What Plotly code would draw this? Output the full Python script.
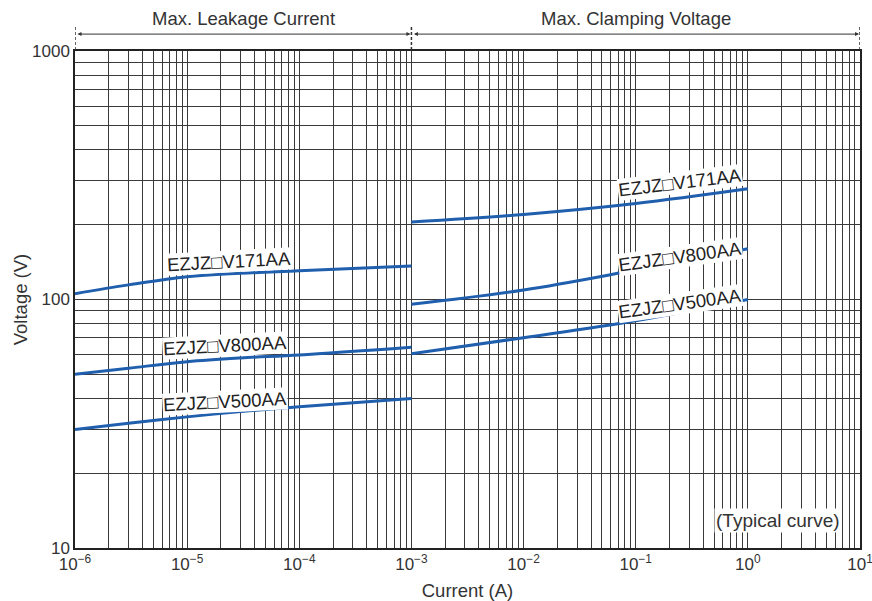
import plotly.graph_objects as go

# ---- data ----
leak_current = [1e-6, 3e-6, 1e-5, 3e-5, 1e-4, 1e-3]
leak_v171 = [105.5, 114.5, 123.5, 127.5, 130.5, 136.5]
leak_v800 = [50.0, 52.9, 56.2, 58.2, 59.8, 64.2]
leak_v500 = [30.0, 31.8, 33.7, 35.4, 37.0, 40.0]

clamp_current = [1e-3, 1e-2, 1e-1, 1.0]
clamp_v171 = [205.0, 220.0, 243.5, 279.0]
clamp_v800 = [95.7, 109.2, 131.4, 160.0]
clamp_v500 = [60.5, 70.2, 82.2, 100.0]

series_names = ["EZJZ\u25a1V171AA", "EZJZ\u25a1V800AA", "EZJZ\u25a1V500AA"]

x_tick_vals = [1e-6, 1e-5, 1e-4, 1e-3, 1e-2, 1e-1, 1e0, 1e1]
x_tick_text = ["10<sup>\u22126</sup>", "10<sup>\u22125</sup>", "10<sup>\u22124</sup>",
               "10<sup>\u22123</sup>", "10<sup>\u22122</sup>", "10<sup>\u22121</sup>",
               "10<sup>0</sup>", "10<sup>1</sup>"]
y_tick_vals = [10, 100, 1000]
y_tick_text = ["10", "100", "1000"]

section_titles = ["Max. Leakage Current", "Max. Clamping Voltage"]
section_bounds = [1e-6, 1e-3, 1e1]

LINE = "#1f5fae"
TXT = "#333333"
GRID = "#3a3a3a"
FONT = "Liberation Sans, Arial, sans-serif"

fig = go.Figure()
for ys in (leak_v171, leak_v800, leak_v500):
    fig.add_trace(go.Scatter(x=leak_current, y=ys, mode="lines",
                             line=dict(color=LINE, width=3, shape="spline", smoothing=1.0),
                             showlegend=False, hoverinfo="skip"))
for ys in (clamp_v171, clamp_v800, clamp_v500):
    fig.add_trace(go.Scatter(x=clamp_current, y=ys, mode="lines",
                             line=dict(color=LINE, width=3, shape="spline", smoothing=1.0),
                             showlegend=False, hoverinfo="skip"))

# full grid tick sets (1..9 per decade), labels only on decades
xmaj = {round(v, 12): t for v, t in zip(x_tick_vals, x_tick_text)}
xv, xt = [], []
for e in range(-6, 1):
    for m in range(1, 10):
        xv.append(m * 10.0 ** e)
        xt.append(xmaj.get(round(10.0 ** e, 12), "") if m == 1 else "")
xv.append(10.0)
xt.append(x_tick_text[-1])

ymaj = {v: t for v, t in zip(y_tick_vals, y_tick_text)}
yv, yt = [], []
for e in range(1, 3):
    for m in range(1, 10):
        v = m * 10 ** e
        yv.append(v)
        yt.append(ymaj.get(v, ""))
yv.append(1000)
yt.append(ymaj[1000])

fig.update_xaxes(type="log", range=[-6, 1], tickvals=xv, ticktext=xt,
                 showgrid=True, gridcolor=GRID, gridwidth=1, automargin=False,
                 ticklabeloverflow="allow",
                 showline=True, linecolor="#222", linewidth=1.5, mirror=True,
                 ticks="", tickfont=dict(size=17, color=TXT, family=FONT),
                 title=dict(text="Current (A)", font=dict(size=18.5, color=TXT, family=FONT), standoff=11),
                 zeroline=False)
fig.update_yaxes(type="log", range=[1, 3], tickvals=yv, ticktext=yt,
                 showgrid=True, gridcolor=GRID, gridwidth=1, automargin=False,
                 showline=True, linecolor="#222", linewidth=1.5, mirror=True,
                 ticks="", tickfont=dict(size=17, color=TXT, family=FONT),
                 title=dict(text="Voltage (V)", font=dict(size=18.5, color=TXT, family=FONT), standoff=0),
                 zeroline=False)

annotations = []
LBL = dict(size=18.5, color="#222", family=FONT)
# curve labels (leakage side)
leak_label_pos = [(-4.63, 2.152, -3), (-4.66, 1.813, -3), (-4.66, 1.590, -3)]
for name, (lx, ly, ang) in zip(series_names, leak_label_pos):
    annotations.append(dict(x=lx, y=ly, xref="x", yref="y", text=name, showarrow=False,
                            textangle=ang, bgcolor="white", borderpad=0, font=LBL))
clamp_label_pos = [(-0.602, 2.469, -7), (-0.602, 2.175, -8), (-0.602, 1.982, -8)]
for name, (lx, ly, ang) in zip(series_names, clamp_label_pos):
    annotations.append(dict(x=lx, y=ly, xref="x", yref="y", text=name, showarrow=False,
                            textangle=ang, bgcolor="white", borderpad=0, font=LBL))

annotations.append(dict(x=0.265, y=1.109, xref="x", yref="y", text="(Typical curve)",
                        showarrow=False, bgcolor="white", borderpad=1,
                        font=dict(size=19, color=TXT, family=FONT)))

# section headers
annotations.append(dict(x=-4.5, y=1.066, xref="x", yref="paper", yanchor="middle",
                        text=section_titles[0], showarrow=False,
                        font=dict(size=18.5, color=TXT, family=FONT)))
annotations.append(dict(x=-1.0, y=1.066, xref="x", yref="paper", yanchor="middle",
                        text=section_titles[1], showarrow=False,
                        font=dict(size=18.5, color=TXT, family=FONT)))
# double arrows
for x0, x1 in ((-6, -3), (-3, 1)):
    annotations.append(dict(x=x1, y=1.034, xref="x", yref="paper", ax=x0, ay=0,
                            axref="x", ayref="pixel", text="", showarrow=True,
                            arrowhead=2, arrowside="end+start", arrowsize=0.8,
                            arrowwidth=1, arrowcolor="#333", standoff=1, startstandoff=1))

shapes = []
for xs in section_bounds:
    shapes.append(dict(type="line", xref="x", yref="paper", x0=xs, x1=xs, y0=1.002, y1=1.052,
                       line=dict(color="#333", width=1.5, dash="3px,2px")))

fig.update_layout(width=872, height=601, margin=dict(l=75, r=12, t=51, b=53),
                  paper_bgcolor="white", plot_bgcolor="white",
                  annotations=annotations, shapes=shapes, showlegend=False,
                  font=dict(family=FONT, color=TXT))

fig.write_html("out.html", config={"displayModeBar": False},
               post_script="document.body.style.margin='0';document.body.style.padding='0';"
                           "document.body.style.overflow='hidden';")
